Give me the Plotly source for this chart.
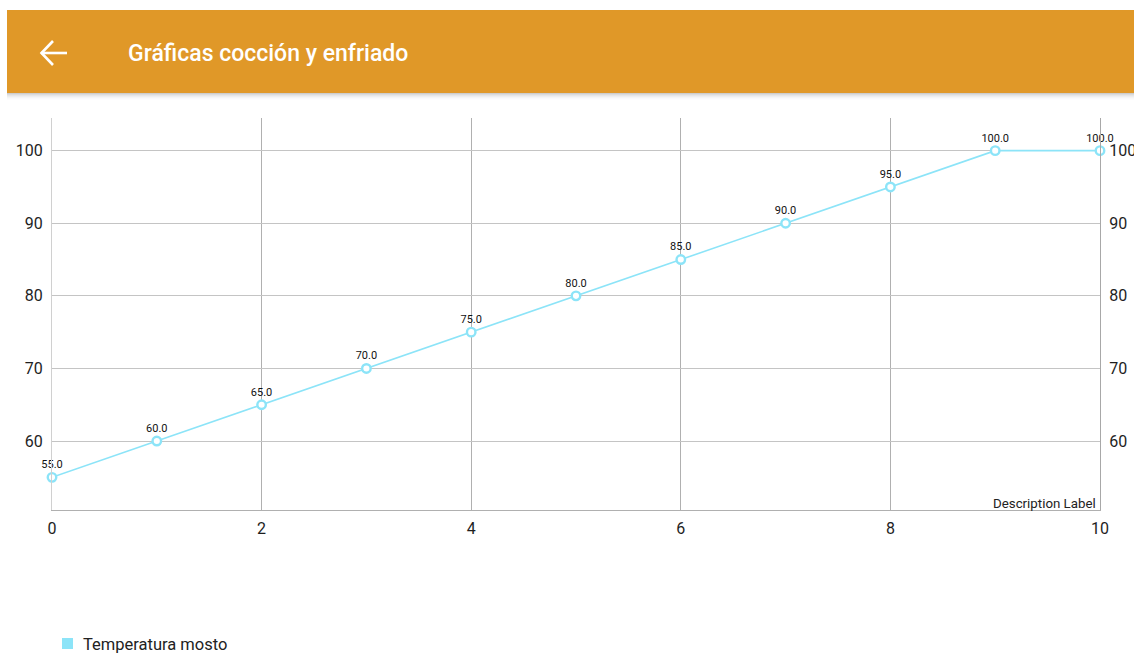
import plotly.graph_objects as go

# Series: wort temperature over time
x_vals = [0, 1, 2, 3, 4, 5, 6, 7, 8, 9, 10]
temperatura = [55, 60, 65, 70, 75, 80, 85, 90, 95, 100, 100]
labels = [f"{v:.1f}" for v in temperatura]
serie_nombre = "Temperatura mosto"
titulo = "Gráficas cocción y enfriado"
descripcion = "Description Label"

W, H = 1134, 655
LINE = "#8ce4f8"
ORANGE = "#e09828"
FONT = "Roboto, sans-serif"


def px_x(p):
    return p / W


def px_y(p):
    return 1 - p / H


y_range = [50.5, 104.5]
x_range = [0, 10]

fig = go.Figure()
fig.add_trace(go.Scatter(
    x=x_vals, y=temperatura, mode="lines+markers+text",
    text=labels, textposition="top center",
    textfont=dict(family=FONT, size=11, color="#111111"),
    line=dict(color=LINE, width=1.6),
    marker=dict(size=8.5, color="white", line=dict(color=LINE, width=2.4)),
    cliponaxis=False, showlegend=False, name=serie_nombre,
))
# invisible trace to bind the right-hand axis
fig.add_trace(go.Scatter(x=[x_vals[0]], y=[temperatura[0]], yaxis="y2",
                         mode="markers", marker=dict(opacity=0),
                         showlegend=False, hoverinfo="skip"))

tick_font = dict(family=FONT, size=16, color="#1e1e1e")
fig.update_layout(
    width=W, height=H, margin=dict(l=0, r=0, t=0, b=0, autoexpand=False),
    paper_bgcolor="white", plot_bgcolor="white",
    xaxis=dict(domain=[px_x(52), px_x(1100)], range=x_range, dtick=2,
               tick0=0, showgrid=True, gridcolor="#b0b0b0", gridwidth=1,
               showline=True, linecolor="#b0b0b0", linewidth=1,
               zeroline=False, ticks="", tickfont=tick_font,
               ticklabelstandoff=4, automargin=False),
    yaxis=dict(domain=[px_y(510), px_y(118)], range=y_range,
               tickvals=[60, 70, 80, 90, 100], showgrid=True,
               gridcolor="#c4c4c4", gridwidth=1, showline=True,
               linecolor="#d0d0d0", linewidth=1, zeroline=False, ticks="",
               tickfont=tick_font, ticklabelstandoff=5, automargin=False),
    yaxis2=dict(overlaying="y", side="right", range=y_range,
                tickvals=[60, 70, 80, 90, 100], showgrid=False,
                showline=True, linecolor="#a8a8a8", linewidth=1,
                zeroline=False, ticks="", tickfont=tick_font,
                ticklabelstandoff=5, anchor="x", automargin=False),
)

shapes = []
# toolbar shadow
for i, op in enumerate([0.20, 0.14, 0.10, 0.07, 0.045, 0.025, 0.012]):
    shapes.append(dict(type="rect", xref="paper", yref="paper",
                       x0=px_x(7), x1=1, y0=px_y(94 + i), y1=px_y(93 + i),
                       fillcolor="black", opacity=op, line=dict(width=0),
                       layer="above"))
# toolbar
shapes.append(dict(type="rect", xref="paper", yref="paper",
                   x0=px_x(7), x1=1, y0=px_y(93), y1=px_y(10),
                   fillcolor=ORANGE, line=dict(width=0), layer="above"))
# back arrow
ax0, ax1, ay = 41, 67, 53
shapes.append(dict(type="line", xref="paper", yref="paper",
                   x0=px_x(ax0), x1=px_x(ax1), y0=px_y(ay), y1=px_y(ay),
                   line=dict(color="white", width=2.6), layer="above"))
shapes.append(dict(type="path", xref="paper", yref="paper",
                   path=f"M {px_x(ax0 + 12)} {px_y(ay - 12)} L {px_x(ax0 + 0.5)} {px_y(ay)} "
                        f"L {px_x(ax0 + 12)} {px_y(ay + 12)}",
                   line=dict(color="white", width=2.6), layer="above"))
# legend swatch
shapes.append(dict(type="rect", xref="paper", yref="paper",
                   x0=px_x(62), x1=px_x(73), y0=px_y(649), y1=px_y(638),
                   fillcolor=LINE, line=dict(width=0)))
fig.update_layout(shapes=shapes)

annotations = [
    dict(text=titulo, xref="paper", yref="paper", x=px_x(126), y=px_y(53),
         xanchor="left", yanchor="middle", showarrow=False,
         font=dict(family=FONT, size=23, color="white", weight=500)),
    dict(text=descripcion, xref="paper", yref="paper", x=px_x(1098),
         y=px_y(503), xanchor="right", yanchor="middle", showarrow=False,
         font=dict(family=FONT, size=13.3, color="#222222")),
    dict(text=serie_nombre, xref="paper", yref="paper", x=px_x(81),
         y=px_y(644), xanchor="left", yanchor="middle", showarrow=False,
         font=dict(family=FONT, size=16.5, color="#222222")),
]
fig.update_layout(annotations=annotations)

fig.write_html("out.html")
